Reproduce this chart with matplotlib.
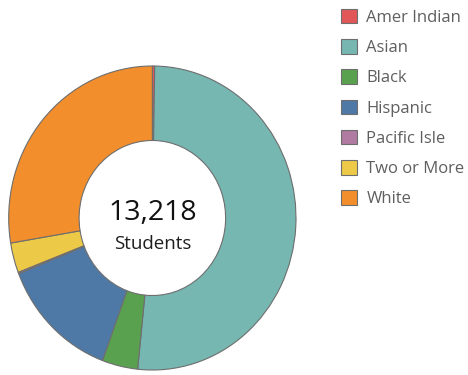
import matplotlib.pyplot as plt

plt.rcParams["font.family"] = ["Open Sans", "DejaVu Sans"]

# Student enrollment by race/ethnicity
categories = ["Amer Indian", "Asian", "Black", "Hispanic", "Pacific Isle", "Two or More", "White"]
students = [35, 6790, 530, 1770, 20, 420, 3653]
colors = ["#e15759", "#76b7b2", "#59a14f", "#4e79a7", "#b07aa1", "#edc948", "#f28e2b"]

W, H = 468, 375
fig = plt.figure(figsize=(W / 100, H / 100), dpi=100)

# donut axes placed in pixel terms (slightly taller than wide)
left, right, top, bottom = 8.7, 296.0, 66.0, 370.0
ax = fig.add_axes([left / W, 1 - bottom / H, (right - left) / W, (bottom - top) / H])
wedges, _ = ax.pie(
    students,
    colors=colors,
    startangle=90,
    counterclock=False,
    radius=1.0,
    wedgeprops=dict(width=0.49, edgecolor="#6e6e6e", linewidth=0.8),
)
ax.set_xlim(-1.0, 1.0)
ax.set_ylim(-1.0, 1.0)
ax.set_aspect("auto")
ax.axis("off")

total = sum(students)
ax.text(0, -0.013, f"{total:,}", ha="center", va="baseline", fontsize=20.5, color="#111111")
ax.text(0, -0.204, "Students", ha="center", va="baseline", fontsize=13.5, color="#1e1e1e")

leg = fig.legend(
    wedges,
    categories,
    loc="upper left",
    bbox_to_anchor=(341 / W, 1 - 9 / H),
    frameon=False,
    fontsize=12,
    borderpad=0,
    borderaxespad=0,
    handlelength=0.95,
    handleheight=0.95,
    handletextpad=0.57,
    labelspacing=0.8,
    labelcolor="#5f5f5f",
)

fig.savefig("out.png", dpi=100)
